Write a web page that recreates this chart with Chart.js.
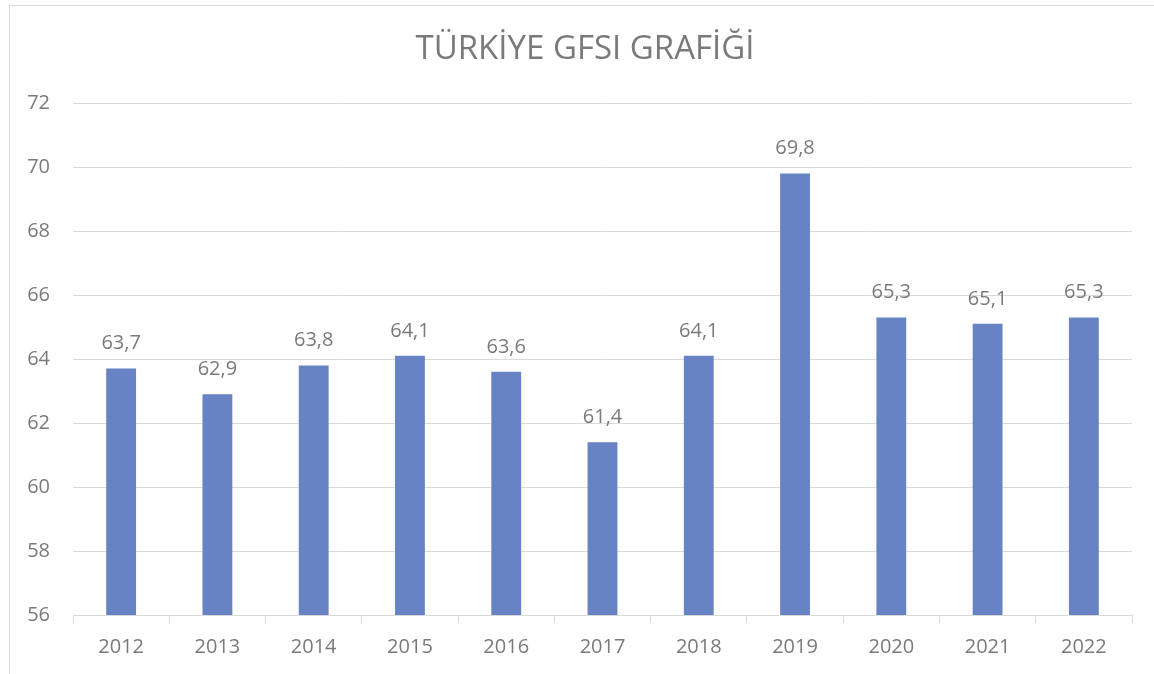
<!DOCTYPE html>
<html>
<head>
<meta charset="utf-8">
<script src="https://cdn.jsdelivr.net/npm/chart.js@4.4.1/dist/chart.umd.min.js"></script>
<style>
  html, body { margin: 0; padding: 0; background: #fff; overflow: hidden; }
  #frame { position: absolute; left: 9px; top: 5px; width: 1170px; height: 690px; border: 1px solid #d9d9d9; box-sizing: border-box; }
  #wrap { position: absolute; left: 0; top: 0; width: 1154px; height: 674px; }
</style>
</head>
<body>
<div id="frame"></div>
<div id="wrap"><canvas id="c" width="1154" height="674"></canvas></div>
<script>
const chartTitle = 'TÜRKİYE GFSI GRAFİĞİ';
const years = ['2012', '2013', '2014', '2015', '2016', '2017', '2018', '2019', '2020', '2021', '2022'];
const gfsiScores = [63.7, 62.9, 63.8, 64.1, 63.6, 61.4, 64.1, 69.8, 65.3, 65.1, 65.3];
const yMin = 56, yMax = 72, yStep = 2;

const FONT = '"Open Sans", "DejaVu Sans", sans-serif';
const TEXT = '#7a7a7a';
const LINE = '#d9d9d9';

const fmt = v => v.toFixed(1).replace('.', ',');

// title and value labels drawn on top of the chart
const decorations = {
  id: 'decorations',
  afterDatasetsDraw(chart) {
    const ctx = chart.ctx;
    ctx.save();
    ctx.fillStyle = TEXT;
    ctx.textAlign = 'center';
    ctx.textBaseline = 'middle';
    ctx.font = '33px ' + FONT;
    ctx.fillText(chartTitle, 585, 50);
    ctx.font = '20px ' + FONT;
    const meta = chart.getDatasetMeta(0);
    meta.data.forEach((bar, i) => {
      ctx.fillText(fmt(gfsiScores[i]), bar.x, bar.y - 25);
    });
    ctx.restore();
  }
};

new Chart(document.getElementById('c'), {
  type: 'bar',
  data: {
    labels: years,
    datasets: [{
      data: gfsiScores,
      backgroundColor: '#6783c3',
      barPercentage: 0.31,
      categoryPercentage: 1.0
    }]
  },
  options: {
    responsive: false,
    animation: false,
    layout: { padding: { top: 103, right: 22, left: 0, bottom: 0 } },
    plugins: { legend: { display: false }, title: { display: false }, tooltip: { enabled: false } },
    scales: {
      x: {
        offset: true,
        grid: { offset: true, drawOnChartArea: false, drawTicks: true, tickLength: 8, color: LINE },
        border: { display: true, color: LINE },
        ticks: { color: TEXT, font: { family: FONT, size: 20 }, padding: 12 },
        afterFit(s) { s.height = 674 - 615; }
      },
      y: {
        min: yMin, max: yMax,
        grid: { color: LINE, drawTicks: false },
        border: { display: false },
        ticks: { stepSize: yStep, color: TEXT, font: { family: FONT, size: 20 }, padding: 23 },
        afterFit(s) { s.width = 73; }
      }
    }
  },
  plugins: [decorations]
});
</script>
</body>
</html>
